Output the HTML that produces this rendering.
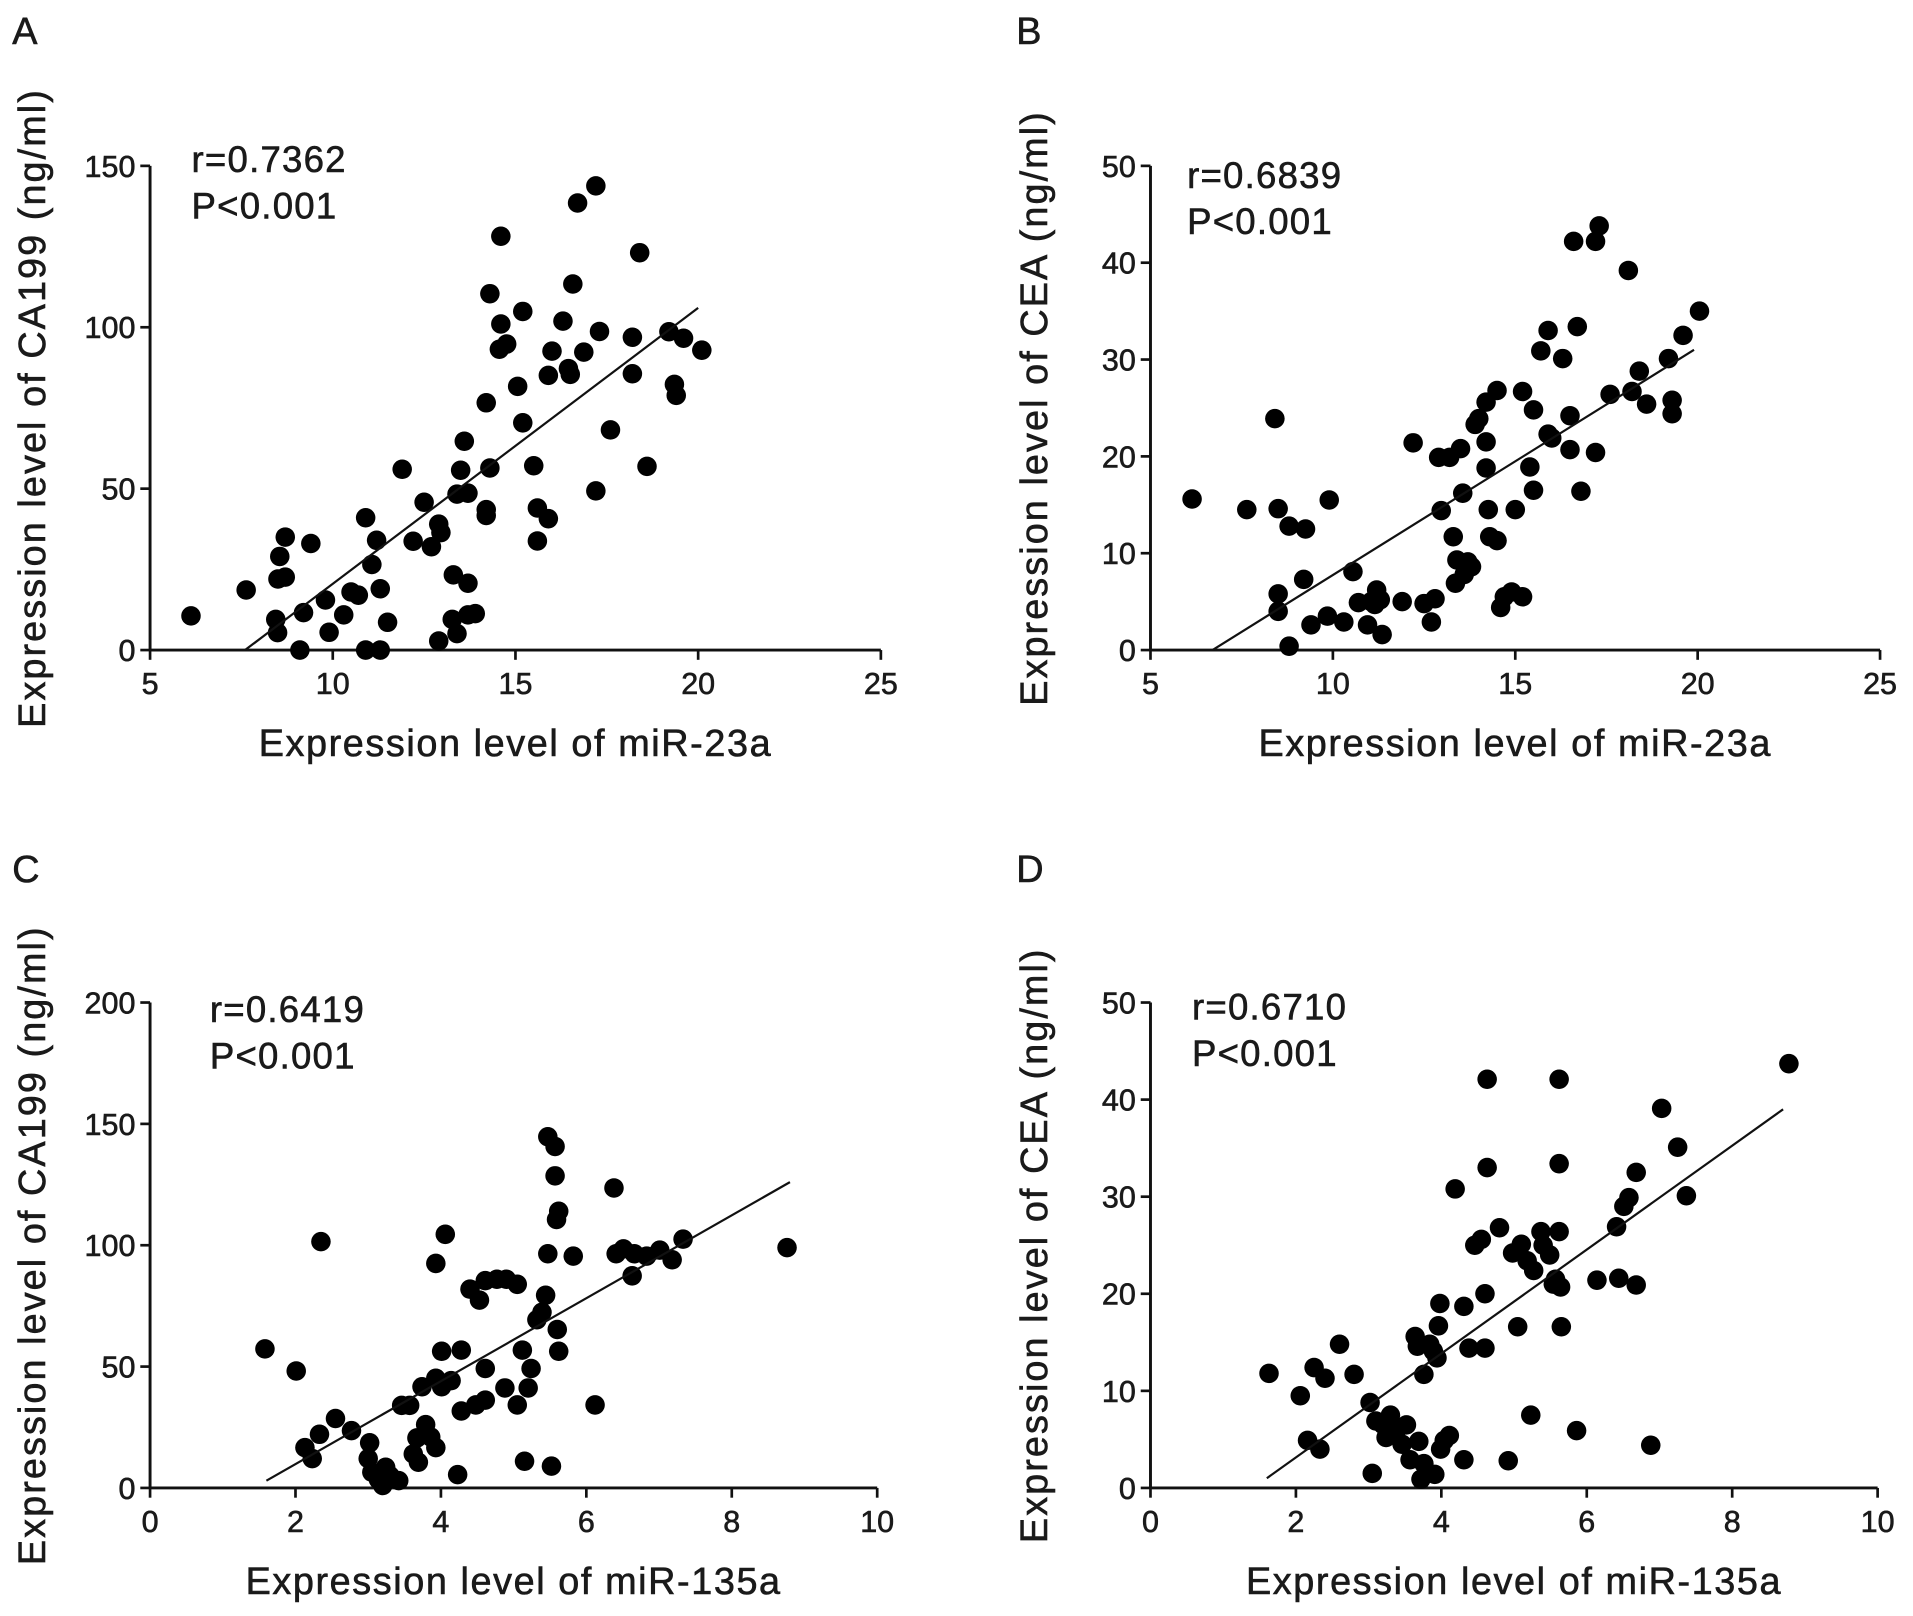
<!DOCTYPE html>
<html><head><meta charset="utf-8"><style>
html,body{margin:0;padding:0;background:#fff;}
svg{display:block;}
text{font-family:"Liberation Sans",sans-serif;fill:#1a1a1a;stroke:#1a1a1a;stroke-width:0.5;}
</style></head><body>
<svg id="fig" width="1913" height="1616" viewBox="0 0 1568 1325" preserveAspectRatio="none" xmlns="http://www.w3.org/2000/svg"></svg>
<script>
// Panel A: miR-23a vs CA199
const aX=[6.12,7.63,8.44,8.49,8.55,8.5,8.7,8.7,9.1,9.2,9.4,9.8,9.9,10.3,10.5,10.7,10.9,10.9,11.3,11.07,11.2,11.3,11.5,11.9,12.2,12.5,12.7,12.9,12.96,12.9,13.3,13.27,13.4,13.4,13.7,13.7,13.7,13.9,13.6,13.5,14.2,14.2,14.2,14.3,14.3,14.6,14.6,14.56,14.76,15.06,15.2,15.2,15.5,15.6,15.9,15.6,15.9,16.0,16.3,16.45,16.5,16.57,16.7,16.87,17.2,17.2,17.3,17.6,18.2,18.2,18.4,18.6,19.2,19.35,19.4,19.6,20.1];
const aY=[10.6,18.6,9.5,5.4,29,22,22.6,35,0,11.6,33,15.5,5.5,10.9,18,17,41,0,0,26.5,34,19,8.6,56,33.7,45.8,32,39,36.4,2.8,23.3,9.5,5.1,48.3,48.6,20.7,10.9,11.3,64.7,55.7,41.7,43.5,76.6,56.4,110.4,128.2,101,93.2,94.8,81.7,104.9,70.4,57.1,44,40.7,33.8,85.1,92.6,101.9,87.2,85.4,113.4,138.5,92.3,143.8,49.3,98.7,68.2,96.9,85.6,123.1,56.9,98.6,82.3,78.9,96.6,92.9];
// Panel B: miR-23a vs CEA
const bX=[6.14,7.64,8.41,8.5,8.5,8.5,8.8,8.8,9.2,9.25,9.4,9.9,9.85,10.3,10.55,10.7,10.95,11.05,11.2,11.3,11.35,11.15,11.9,12.2,12.5,12.7,12.8,12.9,12.97,13.3,13.2,13.5,13.4,13.36,13.6,13.56,13.7,13.8,13.9,14.0,14.2,14.2,14.26,14.3,14.2,14.5,14.5,14.7,14.6,14.9,15.0,15.2,15.2,15.4,15.5,15.5,15.7,15.9,15.9,16.0,16.3,16.5,16.5,16.6,16.7,16.8,17.2,17.2,17.3,17.6,18.1,18.2,18.4,18.6,19.2,19.3,19.3,19.6,20.05];
const bY=[15.6,14.5,23.9,14.6,5.8,4.0,12.8,0.4,7.3,12.5,2.6,15.5,3.5,2.9,8.1,4.9,2.6,5.0,6.2,5.2,1.6,4.7,5.0,21.4,4.8,2.9,5.3,19.9,14.4,11.7,19.9,20.8,9.3,6.9,7.8,16.2,9.1,8.6,23.3,23.9,21.5,18.8,14.5,11.7,25.6,11.3,26.8,5.5,4.4,6.0,14.5,26.7,5.5,18.9,16.5,24.8,30.9,33.0,22.3,21.9,30.1,20.7,24.2,42.2,33.4,16.4,20.4,42.2,43.8,26.4,39.2,26.7,28.8,25.4,30.1,25.8,24.4,32.5,35.0];
// Panel C: miR-135a vs CA199
const cX=[1.58,2.01,2.13,2.23,2.35,2.33,2.55,2.77,3.02,3.0,3.05,3.14,3.2,3.24,3.3,3.42,3.46,3.57,3.62,3.67,3.74,3.69,3.79,3.86,3.93,3.93,3.93,4.01,4.01,4.06,4.14,4.23,4.28,4.28,4.4,4.48,4.53,4.61,4.61,4.61,4.77,4.88,4.9,5.05,5.05,5.12,5.15,5.2,5.24,5.32,5.39,5.44,5.47,5.47,5.52,5.57,5.57,5.6,5.62,5.59,5.62,5.82,6.12,6.38,6.41,6.51,6.63,6.66,6.83,7.01,7.18,7.33,8.76];
const cY=[57.3,48.2,16.6,12.1,101.5,22.1,28.6,23.6,18.6,12.1,6.5,3.5,1,8.5,5,3,34,34,14,20.6,41.7,10.6,26.1,21,16.6,45.2,92.5,41.7,56.3,104.5,44.2,5.5,31.7,56.8,81.9,34.2,77.4,36.2,85.4,49.2,86,41.2,86,83.9,34.2,56.8,11,41.2,49.2,69.3,72.4,79.4,144.7,96.5,9,140.7,128.6,65.3,56.3,110.6,114,95.5,34.2,123.6,96.5,98.5,87.4,96.5,95.5,98,94,102.5,99];
// Panel D: miR-135a vs CEA
const dX=[1.63,2.06,2.16,2.25,2.33,2.4,2.6,2.8,3.02,3.05,3.1,3.2,3.24,3.3,3.39,3.46,3.52,3.57,3.64,3.67,3.69,3.72,3.76,3.76,3.84,3.89,3.91,3.94,3.96,3.98,3.99,4.04,4.11,4.19,4.31,4.31,4.38,4.46,4.55,4.6,4.6,4.63,4.63,4.8,4.92,4.98,5.05,5.1,5.18,5.23,5.27,5.37,5.4,5.49,5.54,5.57,5.62,5.62,5.62,5.65,5.64,5.86,6.14,6.41,6.44,6.51,6.58,6.68,6.68,6.88,7.03,7.25,7.37,8.78];
const dY=[11.8,9.5,4.9,12.4,4.0,11.3,14.8,11.7,8.8,1.5,6.9,6.5,5.2,7.5,6,4.5,6.5,2.9,15.6,14.6,4.8,0.9,2.5,11.7,14.8,14.1,1.4,13.4,16.7,19,4.0,4.9,5.4,30.8,2.9,18.7,14.4,25,25.6,14.4,20,42.1,33,26.8,2.8,24.2,16.6,25.1,23.4,7.5,22.4,26.4,25,24,21,21.5,26.4,42.1,33.4,16.6,20.7,5.9,21.4,26.9,21.6,29,29.9,20.9,32.5,4.4,39.1,35.1,30.1,43.7];
// Regression endpoints
const aFit=[[7.6,0],[20,106]];
const bFit=[[6.7,0],[19.9,31]];
const cFit=[[1.6,3],[8.8,126]];
const dFit=[[1.6,1],[8.7,39]];
const aXTicks=[5,10,15,20,25], aYTicks=[0,50,100,150];
const bXTicks=[5,10,15,20,25], bYTicks=[0,10,20,30,40,50];
const cXTicks=[0,2,4,6,8,10], cYTicks=[0,50,100,150,200];
const dXTicks=[0,2,4,6,8,10], dYTicks=[0,10,20,30,40,50];

const NS="http://www.w3.org/2000/svg";
const svg=document.getElementById('fig');
function mk(tag,attrs,parent,txt){const e=document.createElementNS(NS,tag);for(const k in attrs)e.setAttribute(k,attrs[k]);if(txt!==undefined)e.textContent=txt;parent.appendChild(e);return e;}

function panel(cfg){
  const g=mk('g',{},svg);
  
  
  const xs=v=>cfg.x0+(v-cfg.xmin)/(cfg.xmax-cfg.xmin)*(cfg.x1-cfg.x0);
  const ys=v=>cfg.y0-(v-cfg.ymin)/(cfg.ymax-cfg.ymin)*(cfg.y0-cfg.y1);
  const L=mk('text',{x:cfg.lx,y:cfg.ly,'font-size':31},g,cfg.id.toUpperCase());
  
  
  const ax=mk('line',{x1:cfg.x0,y1:cfg.y0,x2:cfg.x1,y2:cfg.y0,stroke:'#111','stroke-width':2.4},g);
  
  
  const ay=mk('line',{x1:cfg.x0,y1:cfg.y0,x2:cfg.x0,y2:cfg.y1,stroke:'#111','stroke-width':2.4},g);
  
  
  cfg.xt.forEach(t=>{
    mk('line',{x1:xs(t),y1:cfg.y0,x2:xs(t),y2:cfg.y0+8,stroke:'#111','stroke-width':2.2},g);
    const tl=mk('text',{x:xs(t),y:cfg.y0+36,'font-size':25,'text-anchor':'middle'},g,String(t));
    
    
  });
  cfg.yt.forEach(t=>{
    mk('line',{x1:cfg.x0-8,y1:ys(t),x2:cfg.x0,y2:ys(t),stroke:'#111','stroke-width':2.2},g);
    const tl=mk('text',{x:cfg.x0-12,y:ys(t)+9,'font-size':25,'text-anchor':'end'},g,String(t));
    
    
  });
  const xt=mk('text',{x:(cfg.x0+cfg.x1)/2,y:cfg.y0+87,'font-size':31,'letter-spacing':1.3,'text-anchor':'middle'},g,cfg.xTitle);
  
  
  const cy=(cfg.y0+cfg.y1)/2;
  const yt=mk('text',{x:cfg.ytx,y:cy,'font-size':31,'letter-spacing':1.7,'text-anchor':'middle',transform:`rotate(-90 ${cfg.ytx} ${cy})`},g,cfg.yTitle);
  
  
  const r=mk('text',{x:cfg.rx,y:cfg.ry,'font-size':30,'letter-spacing':1},g,cfg.r);
  
  
  const p=mk('text',{x:cfg.rx,y:cfg.ry+38,'font-size':30,'letter-spacing':1},g,'P<0.001');
  
  
  cfg.X.forEach((v,i)=>{
    const c=mk('circle',{cx:xs(v),cy:ys(cfg.Y[i]),r:8,fill:'#000'},g);
    
    
  });
  const f=mk('line',{x1:xs(cfg.fit[0][0]),y1:ys(cfg.fit[0][1]),x2:xs(cfg.fit[1][0]),y2:ys(cfg.fit[1][1]),stroke:'#111','stroke-width':1.8},g);
  
  
}
panel({id:'a',x0:123,x1:722,y0:533,y1:136,xmin:5,xmax:25,ymin:0,ymax:150,xt:aXTicks,yt:aYTicks,X:aX,Y:aY,fit:aFit,lx:10,ly:36,rx:157,ry:141,r:'r=0.7362',ytx:37,xTitle:'Expression level of miR-23a',yTitle:'Expression level of CA199 (ng/ml)'});
panel({id:'b',x0:943,x1:1541,y0:533,y1:136,xmin:5,xmax:25,ymin:0,ymax:50,xt:bXTicks,yt:bYTicks,X:bX,Y:bY,fit:bFit,lx:833,ly:36,rx:973,ry:154,r:'r=0.6839',ytx:858,xTitle:'Expression level of miR-23a',yTitle:'Expression level of CEA (ng/ml)'});
panel({id:'c',x0:123,x1:719,y0:1220,y1:822,xmin:0,xmax:10,ymin:0,ymax:200,xt:cXTicks,yt:cYTicks,X:cX,Y:cY,fit:cFit,lx:10,ly:723,rx:172,ry:838,r:'r=0.6419',ytx:37,xTitle:'Expression level of miR-135a',yTitle:'Expression level of CA199 (ng/ml)'});
panel({id:'d',x0:943,x1:1539,y0:1220,y1:822,xmin:0,xmax:10,ymin:0,ymax:50,xt:dXTicks,yt:dYTicks,X:dX,Y:dY,fit:dFit,lx:833,ly:723,rx:977,ry:836,r:'r=0.6710',ytx:858,xTitle:'Expression level of miR-135a',yTitle:'Expression level of CEA (ng/ml)'});
</script>
</body></html>
